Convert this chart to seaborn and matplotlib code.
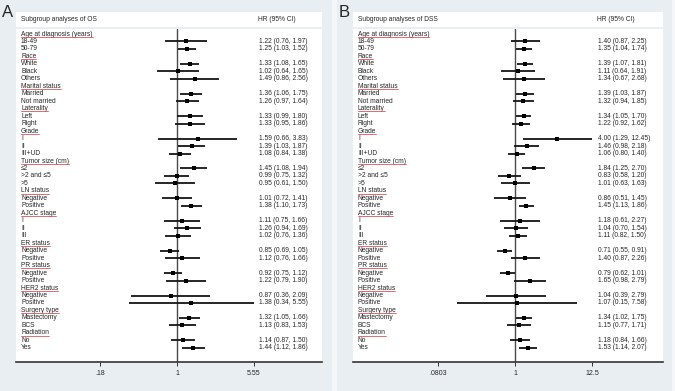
import numpy as np
import pandas as pd
import matplotlib.pyplot as plt
import seaborn as sns
from matplotlib.lines import Line2D
from matplotlib.patches import Rectangle
from matplotlib.ticker import NullLocator, FixedLocator, FixedFormatter

sns.set_style("white")
plt.rcParams['font.family'] = ['Liberation Sans', 'DejaVu Sans']

groups = ["Age at diagnosis (years)", "Race", "Marital status", "Laterality", "Grade",
          "Tumor size (cm)", "LN status", "AJCC stage", "ER status", "PR status",
          "HER2 status", "Surgery type", "Radiation"]
subgroups = [["18-49", "50-79"], ["White", "Black", "Others"], ["Married", "Not married"],
             ["Left", "Right"], ["I", "II", "III+UD"], ["≤2", ">2 and ≤5", ">5"],
             ["Negative", "Positive"], ["I", "II", "III"], ["Negative", "Positive"],
             ["Negative", "Positive"], ["Negative", "Positive"], ["Mastectomy", "BCS"],
             ["No", "Yes"]]

# overall survival
os_hr = [1.22, 1.25, 1.33, 1.02, 1.49, 1.36, 1.26, 1.33, 1.33, 1.59, 1.39, 1.08, 1.45, 0.99, 0.95,
         1.01, 1.38, 1.11, 1.26, 1.02, 0.85, 1.12, 0.92, 1.22, 0.87, 1.38, 1.32, 1.13, 1.14, 1.44]
os_lo = [0.76, 1.03, 1.08, 0.64, 0.86, 1.06, 0.97, 0.99, 0.95, 0.66, 1.03, 0.84, 1.08, 0.75, 0.61,
         0.72, 1.10, 0.75, 0.94, 0.76, 0.69, 0.76, 0.75, 0.79, 0.36, 0.34, 1.05, 0.83, 0.87, 1.12]
os_hi = [1.97, 1.52, 1.65, 1.65, 2.56, 1.75, 1.64, 1.80, 1.86, 3.83, 1.87, 1.38, 1.94, 1.32, 1.50,
         1.41, 1.73, 1.66, 1.69, 1.36, 1.05, 1.66, 1.12, 1.90, 2.09, 5.55, 1.66, 1.53, 1.50, 1.86]

# disease-specific survival
dss_hr = [1.40, 1.35, 1.39, 1.11, 1.34, 1.39, 1.32, 1.34, 1.22, 4.00, 1.46, 1.06, 1.84, 0.83, 1.01,
          0.86, 1.45, 1.18, 1.04, 1.11, 0.71, 1.40, 0.79, 1.65, 1.04, 1.07, 1.34, 1.15, 1.18, 1.53]
dss_lo = [0.87, 1.04, 1.07, 0.64, 0.67, 1.03, 0.94, 1.05, 0.92, 1.29, 0.98, 0.80, 1.25, 0.58, 0.63,
          0.51, 1.13, 0.61, 0.70, 0.82, 0.55, 0.87, 0.62, 0.98, 0.39, 0.15, 1.02, 0.77, 0.84, 1.14]
dss_hi = [2.25, 1.74, 1.81, 1.91, 2.68, 1.87, 1.85, 1.70, 1.62, 12.45, 2.18, 1.40, 2.70, 1.20, 1.63,
          1.45, 1.86, 2.27, 1.54, 1.50, 0.91, 2.26, 1.01, 2.79, 2.79, 7.58, 1.75, 1.71, 1.66, 2.07]

W, H = 675, 391

# row layout
labels, is_header, sub_rows = [], [], []
for g, subs in zip(groups, subgroups):
    labels.append(g)
    is_header.append(True)
    for s in subs:
        sub_rows.append(len(labels))
        labels.append(s)
        is_header.append(False)
n_rows = len(labels)

fig = plt.figure(figsize=(W / 100, H / 100), dpi=100, facecolor='#e9eef2')
fig.add_artist(Rectangle((332 / W, 0), 5 / W, 1, transform=fig.transFigure,
                         facecolor='#f4f6f8', edgecolor='none'))
fig.add_artist(Rectangle((672 / W, 0), 3 / W, 1, transform=fig.transFigure,
                         facecolor='#f4f6f8', edgecolor='none'))


def draw_panel(letter, x0, x1, title, hr, lo, hi, xlim, ticks, ticklabels, hr_x):
    # header box
    fig.add_artist(Rectangle((x0 / W, 1 - 27 / H), (x1 - x0) / W, 15 / H,
                             transform=fig.transFigure, facecolor='white', edgecolor='none'))
    fig.text((x0 + 5) / W, 1 - 19.5 / H, title, fontsize=4.8, va='center', ha='left')
    fig.text(hr_x / W, 1 - 19.5 / H, "HR (95% CI)", fontsize=4.8, va='center', ha='left')
    fig.text((x0 - 14) / W, 1 - 17 / H, letter, fontsize=12, va='baseline', ha='left')

    ax = fig.add_axes([x0 / W, (H - 362) / H, (x1 - x0) / W, (362 - 29) / H])
    ax.set_facecolor('white')
    df = pd.DataFrame({"row": sub_rows, "hr": hr, "lo": lo, "hi": hi})
    ax.set_xscale('log')
    ax.axvline(1, color='#4a4a4a', lw=1.0, zorder=1)
    ax.hlines(df["row"], df["lo"], df["hi"], color='#151515', lw=1.3, zorder=2)
    sns.scatterplot(data=df, x="hr", y="row", marker='s', s=5, color='black',
                    linewidth=0, legend=False, ax=ax, zorder=3)
    ax.set_xlim(*xlim)
    ax.set_ylim(n_rows - 1 + 1.9, -0.67)
    ax.set_xlabel("")
    ax.set_ylabel("")
    ax.set_yticks([])
    ax.xaxis.set_major_locator(FixedLocator(ticks))
    ax.xaxis.set_major_formatter(FixedFormatter(ticklabels))
    ax.xaxis.set_minor_locator(NullLocator())
    ax.tick_params(axis='x', bottom=True, direction='out', length=3, width=0.7,
                   color='#333333', labelsize=5, pad=2.5)
    for s in ['top', 'left', 'right']:
        ax.spines[s].set_visible(False)
    ax.spines['bottom'].set_color('#333333')
    ax.spines['bottom'].set_linewidth(1.2)

    trans = ax.get_yaxis_transform()
    lab_x = 5 / (x1 - x0)
    val_x = (hr_x + 1 - x0) / (x1 - x0)
    texts = []
    for i, (lab, hd) in enumerate(zip(labels, is_header)):
        t = ax.text(lab_x, i, lab, transform=trans, fontsize=4.8, va='center', ha='left')
        if hd:
            texts.append(t)
    for r, h, l, u in zip(sub_rows, hr, lo, hi):
        ax.text(val_x, r, f"{h:.2f} ({l:.2f}, {u:.2f})", transform=trans,
                fontsize=4.8, va='center', ha='left')
    return texts


hdr_a = draw_panel("A", 16, 322, "Subgroup analyses of OS", os_hr, os_lo, os_hi,
                   (0.0277, 25.3), [0.18, 1, 5.55], [".18", "1", "5.55"], 258)
hdr_b = draw_panel("B", 353, 663, "Subgroup analyses of DSS", dss_hr, dss_lo, dss_hi,
                   (0.00494, 128), [0.0803, 1, 12.5], [".0803", "1", "12.5"], 597)

# red underline under group headers
fig.canvas.draw()
r = fig.canvas.get_renderer()
for t in hdr_a + hdr_b:
    bb = t.get_window_extent(renderer=r)
    y = bb.y0 + 0.8
    fig.add_artist(Line2D([bb.x0 / W, bb.x1 / W], [y / H, y / H], transform=fig.transFigure,
                          color='#dd5555', lw=0.6))

fig.savefig("out.png", dpi=100, facecolor=fig.get_facecolor())
